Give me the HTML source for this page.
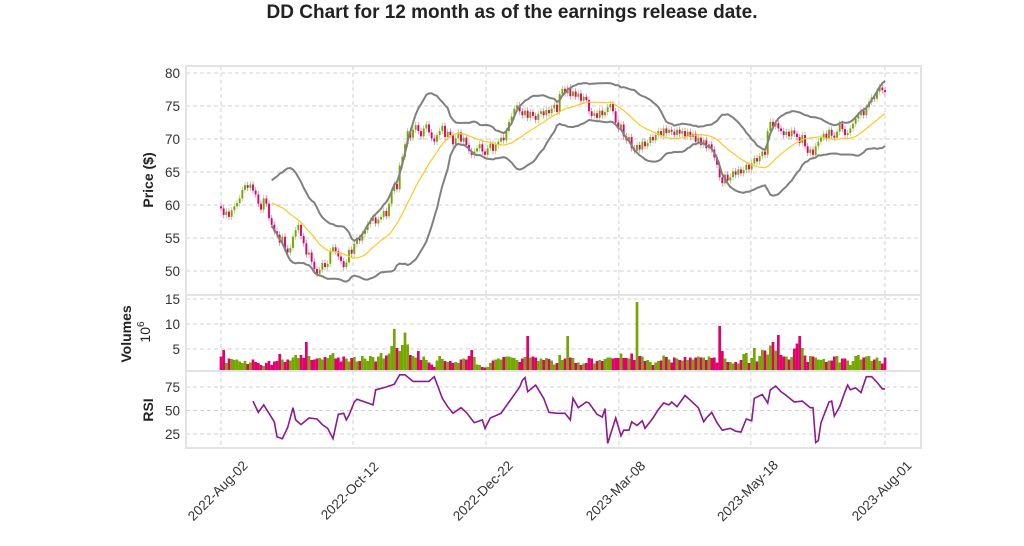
<!DOCTYPE html>
<html><head><meta charset="utf-8">
<style>
body{margin:0;background:#fff;}
svg{display:block;font-family:"Liberation Sans",sans-serif;}
</style></head>
<body>
<svg id="chart" width="1024" height="546" viewBox="0 0 1024 546" xmlns="http://www.w3.org/2000/svg">
<text x="512" y="18" text-anchor="middle" font-size="19" font-weight="bold" fill="#222">DD Chart for 12 month as of the earnings release date.</text>
<g id="grid"></g>
<g id="marks"></g>
<g id="axes"></g>
</svg>
<script>
const closes=[59.5,58.5,59,58.2,59.2,59.8,60.3,61,62.3,63,
62.6,63.1,62.2,61.6,60.2,59.3,61,60.2,58,57,
56,55.5,54.3,55.2,53.4,52.8,53.5,55.2,56.2,57,
55.3,54.2,52.5,52.8,51.4,50.3,49.6,50.2,51.2,50.6,
51.1,53,53.6,53,52.2,51.5,50.6,51.3,53.2,52.6,
54.1,55,54.6,55.6,56.2,57.1,57.6,58.1,57.2,57.8,
58.2,59.1,58.3,60.2,62.1,63.2,62.4,66,67.3,69.2,
71.2,70.2,71.4,72.1,71.2,70.4,71.6,72.2,71,70.1,
69.6,70.6,71.2,72,70.3,71.1,70.6,69.2,70.1,71,
69.6,70.2,69.1,68.2,67.6,68.1,68.6,69.2,68.1,67.6,
68.6,69.3,68.2,69.1,69.6,70.2,69.8,71.2,72.6,73.4,
74.6,75.1,74.2,73.6,74.3,73.2,74.1,73.5,72.9,73.8,
74.2,73.6,74.4,73.9,74.6,75.2,74.1,76.8,77.6,76.9,
77.8,76.5,77.2,76.4,76.9,75.8,76.4,75.9,74.2,73.5,
73.9,73.2,74.3,73.6,74.1,74.8,75.3,74.2,72.5,71.6,
72.2,70.4,69.8,70.3,68.6,68.2,69.1,68.4,69.6,68.9,
69.4,70.3,69.8,70.6,71.2,70.5,71.6,70.9,71.4,71.1,
70.6,71.4,70.8,71.2,70.4,71.1,70.3,70.8,69.6,70.2,
69.1,69.8,68.6,69.2,68.4,67.2,66.1,64.2,63.3,64.6,
63.7,64.2,65.1,64.6,65.4,64.8,65.3,66.1,65.4,66.3,
67.1,66.6,67.4,68.1,67.6,71.2,72.6,71.9,72.4,71.6,
71.2,70.6,71.1,70.4,71.3,70.8,70.3,69.4,70.6,68.9,
67.9,68.4,67.6,68.9,69.6,70.2,70.8,70.1,71.4,70.5,
70.2,71.1,72.3,71.5,70.6,70.9,71.6,72.3,73.1,73.6,
74.3,73.6,74.8,75.6,76.3,76.1,77.2,77.8,77.4,77.1];
const volumes=[3.5,4.8,2.2,3.1,3,2.8,2.9,2.5,2.2,2.6,
2,2.3,2.9,2.4,2.2,1.8,1.6,2.2,2.6,1.8,
2.5,2.6,4,2.9,2.4,2.9,2.7,3.3,3.8,3.2,
3.8,3.2,6.4,3.6,2.8,2.9,3.1,3.2,2.9,3.4,
3.2,3.8,4.2,3.1,3.3,2.5,3.5,3.1,2.5,3.2,
3.4,2.5,2.6,3.6,3.1,2.6,3.6,3.4,2.5,3.5,
4.2,3.1,3.7,4.1,5.6,9,5.2,4.6,5.8,8.3,
5.9,3.8,3.6,3.3,4.6,2.8,3.5,2.8,2.3,1.9,
1.4,2.7,3.6,3,2.6,2.4,2.6,2.2,2.4,2.2,
2.9,3.1,2.9,3.6,4.8,3.4,1.9,1.8,1.4,1.3,
1.4,2.2,2.7,2.9,3.1,2.9,3.4,3.5,3.5,3.3,
3.2,2.8,2.4,3.1,3.4,7.6,3.3,3.5,3.3,2.6,
3.1,2.8,3.2,3,2.7,1.9,2.2,3.8,2.8,3.1,
7.6,3.3,3.2,2.2,2.3,1.8,2.1,2.2,3.2,3.1,
2.1,2.6,2.8,2.6,3,3.3,3.3,3.1,3.2,3.2,
4.1,3.2,3.2,3.1,4.1,2.8,14.4,3.6,3.5,2.6,
2.8,2.4,1.8,2.3,2.6,2.7,3.7,3.4,2.9,2.3,
3.3,3.1,2.8,2.7,3.4,2.8,3.3,2.9,3.3,3.5,
3.3,3.3,2.8,3.5,3.2,3.3,2.3,9.6,4.6,3.1,
2.4,2.4,2.1,2.4,2.1,2.8,4,4.2,2.2,3.2,
5.2,2.5,3.6,4.8,4.7,3.9,5.7,6.4,4.7,7.8,
3.8,3.5,3.5,2.9,3.4,5.1,6.1,7.6,5.2,3.7,
2.4,3.6,3.5,3.3,2.9,2.8,3,2.4,2.7,2.7,
3.5,3.6,2.3,3.1,3.1,2.7,1.8,2.6,3.6,3.8,
2.9,3.3,3.5,3.6,2.6,2.9,3.3,2.6,2.1,3.3];
const rsiDays=[12,14,16,18,20,21,23,25,27,28,30,33,36,38,40,42,44,46,47,48,50,51,54,57,58,62,65,67,69,72,78,80,83,85,87,90,92,95,98,99,101,105,112,113,114,115,118,121,123,126,129,131,132,134,137,138,141,143,144,145,148,150,151,153,154,156,158,159,162,164,166,168,169,171,174,176,179,181,182,184,186,188,191,193,195,197,199,200,203,205,206,208,210,212,215,218,221,222,223,224,225,228,229,230,232,234,235,236,238,240,242,244,246,248,249];
const rsiValues=[60,48,56,47,38,22,20,32,53,40,35,42,41,35,31,20,46,47,40,45,59,62,59,56,72,75,78,88,88,81,81,86,63,54,47,53,48,37,40,31,42,47,75,82,85,70,77,63,48,47,47,40,63,53,59,58,46,43,52,15,42,23,29,29,38,34,39,31,42,51,58,56,59,54,66,61,53,38,42,48,37,29,31,28,27,41,39,63,67,58,72,76,70,66,59,60,53,53,16,18,37,59,60,44,54,70,77,72,74,69,86,86,80,73,73];
const tickDays=[0,49.5,99.4,149.2,198.7,249];
const tickLabels=["2022-Aug-02","2022-Oct-12","2022-Dec-22","2023-Mar-08","2023-May-18","2023-Aug-01"];
const priceTicks=[50,55,60,65,70,75,80];
const volTicks=[5,10,15];
const rsiTicks=[25,50,75];

const NS="http://www.w3.org/2000/svg";
const L=186,R=921;
const P={top:66,bot:295},V={top:295,bot:371},Q={top:371,bot:448};
const xS=d=>221+d*(885-221)/249;
const yP=p=>73+(80-p)*(271-73)/30;
const yV=v=>374-v*5;
const yR=r=>434-(r-25)*0.94;
function mk(tag,attrs,parent){const e=document.createElementNS(NS,tag);for(const k in attrs)e.setAttribute(k,attrs[k]);parent.appendChild(e);return e;}
const grid=document.getElementById('grid'),marks=document.getElementById('marks'),axes=document.getElementById('axes');
const dash={stroke:"#d0d0d0","stroke-width":1,"stroke-dasharray":"4,3"};
// panels
[[P,'price-panel'],[V,'volume-panel'],[Q,'rsi-panel']].forEach(([p,n])=>{
 const r=mk('rect',{x:L,y:p.top,width:R-L,height:p.bot-p.top,fill:"none",stroke:"#e2e2e2","stroke-width":2},axes);
 
 
});
// vertical grid + x labels
tickDays.forEach((d,i)=>{
 const x=xS(d);
 [P,V,Q].forEach(p=>mk('line',Object.assign({x1:x,x2:x,y1:p.top,y2:p.bot},dash),grid));
 const t=mk('text',{x:x,y:494,"text-anchor":"middle","font-size":13.5,fill:"#333",transform:`rotate(-45 ${x} 494)`},axes);
 t.textContent=tickLabels[i];
 
 
});
function yTicks(ticks,f,name){ticks.forEach(v=>{const y=f(v);
 mk('line',Object.assign({x1:L,x2:R,y1:y,y2:y},dash),grid);
 const t=mk('text',{x:180,y:y+5,"text-anchor":"end","font-size":13.5,fill:"#333"},axes);t.textContent=v;
 
 
});}
yTicks(priceTicks,yP,'price-tick-label');yTicks(volTicks,yV,'volume-tick-label');yTicks(rsiTicks,yR,'rsi-tick-label');
function ylab(txt,x,y,name,fs,bold){const t=mk('text',{x:x,y:y,"text-anchor":"middle","font-size":fs,"font-weight":bold?"bold":"normal",fill:"#222",transform:`rotate(-90 ${x} ${y})`},axes);t.innerHTML=txt;
 
 }
ylab("Price ($)",153,180,'price-axis-title',14,true);
ylab("Volumes",131,334,'volume-axis-title',14,true);
ylab('10<tspan dy="-6" font-size="10">6</tspan>',150,332,'volume-scale-label',14,false);
ylab("RSI",153,410,'rsi-axis-title',14,true);
const UP="#74a800",DN="#e2006f";
// candles & volume
const bw=1.9;
closes.forEach((c,i)=>{
 const o=i>0?closes[i-1]:c+0.3;const up=c>=o;const col=up?UP:DN;const x=xS(i);
 const hi=Math.max(o,c)+0.5,lo=Math.min(o,c)-0.5;
 const w=mk('line',{x1:x,x2:x,y1:yP(hi),y2:yP(lo),stroke:col,"stroke-width":0.7,opacity:0.6},marks);
 
 
 const b=mk('rect',{x:x-bw/2,y:yP(Math.max(o,c)),width:bw,height:Math.max(0.8,yP(Math.min(o,c))-yP(Math.max(o,c))),fill:col},marks);
 
 
 const v=volumes[i];
 const vb=mk('rect',{x:x-1.35,y:yV(v),width:2.7,height:371-yV(v),fill:col},marks);
 
 
});
// bollinger
let mid=[],upB=[],loB=[];
for(let i=19;i<closes.length;i++){const s=closes.slice(i-19,i+1);const m=s.reduce((a,b)=>a+b)/20;const sd=Math.sqrt(s.reduce((a,b)=>a+(b-m)*(b-m),0)/20);mid.push([xS(i),yP(m)]);upB.push([xS(i),yP(m+2*sd)]);loB.push([xS(i),yP(m-2*sd)]);}
const pts=a=>a.map(p=>p[0].toFixed(1)+","+p[1].toFixed(1)).join(" ");
const bu=mk('polyline',{points:pts(upB),fill:"none",stroke:"#808080","stroke-width":2},marks);


const bl=mk('polyline',{points:pts(loB),fill:"none",stroke:"#808080","stroke-width":2},marks);


const sm=mk('polyline',{points:pts(mid),fill:"none",stroke:"#ffc820","stroke-width":1.2},marks);


// rsi
const rl=mk('polyline',{points:rsiDays.map((d,i)=>xS(d).toFixed(1)+","+yR(rsiValues[i]).toFixed(1)).join(" "),fill:"none",stroke:"#8a1a8f","stroke-width":1.6},marks);


</script>
</body></html>
